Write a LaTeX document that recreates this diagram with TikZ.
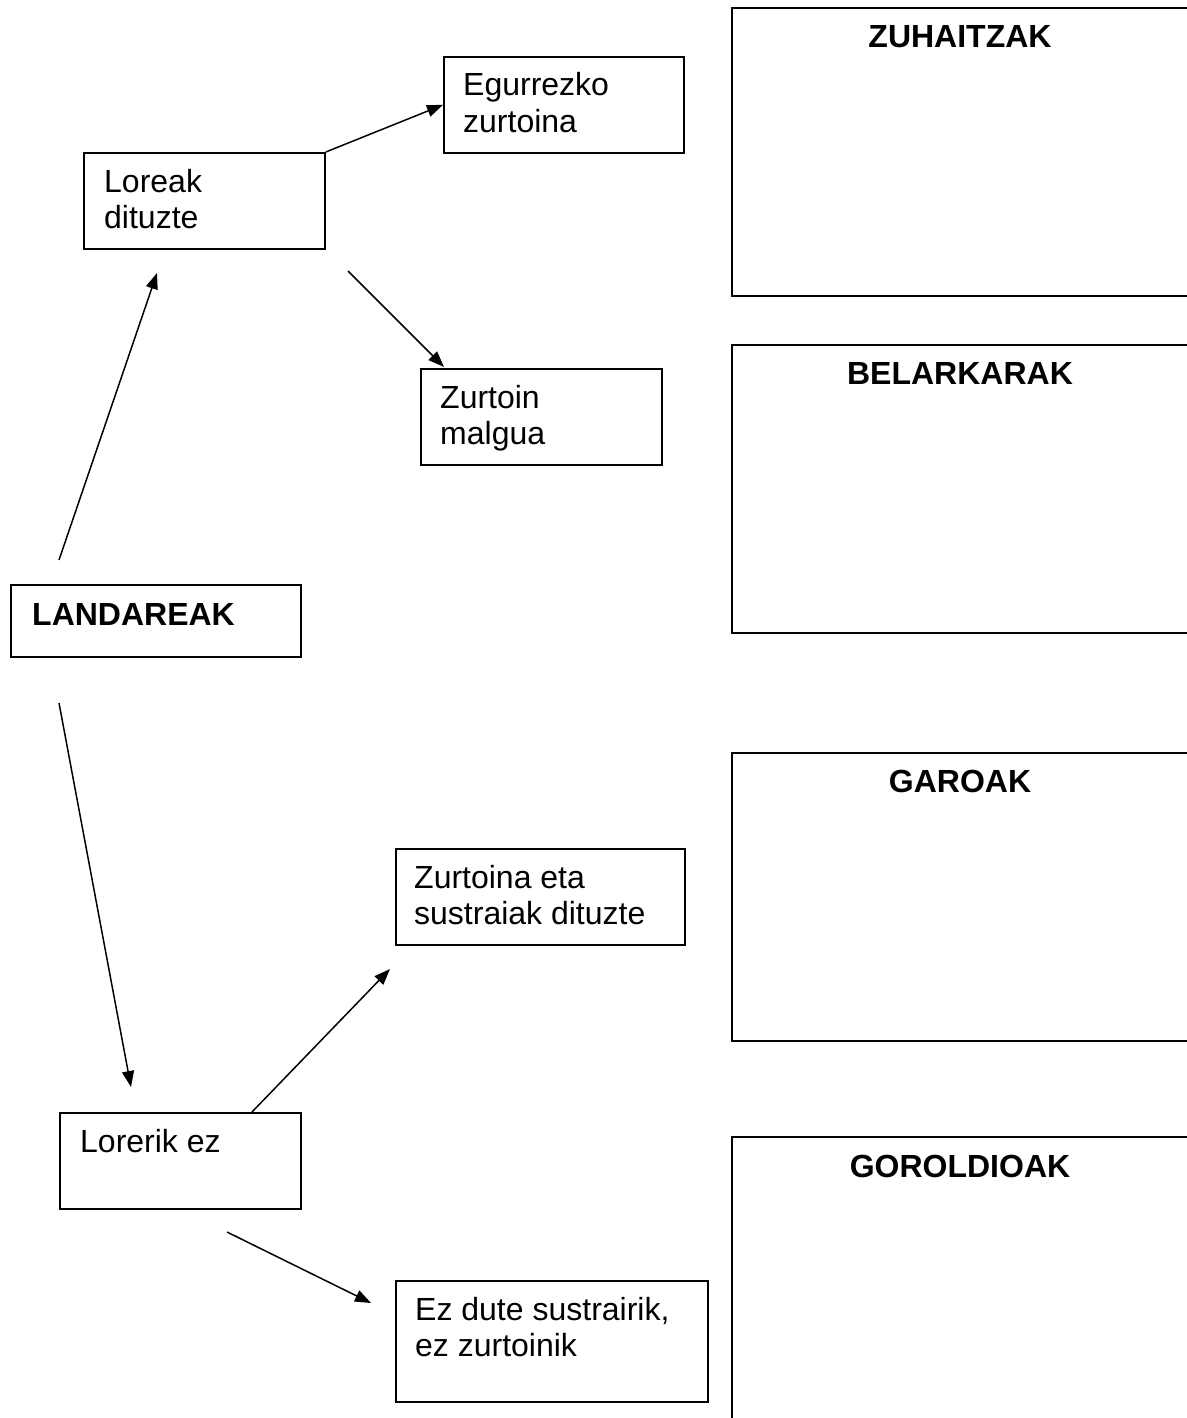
\documentclass[tikz,border=0pt]{standalone}
\usepackage{fontspec}
\setmainfont{Liberation Sans}
\usetikzlibrary{arrows.meta}
\begin{document}
\begin{tikzpicture}[x=1pt,y=-1pt,
  box/.style={draw, line width=1.8pt, inner sep=0pt, anchor=north west},
  bigbox/.style={draw, line width=2.2pt, inner sep=0pt, anchor=north west, minimum width=458pt, minimum height=288pt},
  txt/.style={anchor=base west, inner sep=0pt, font=\fontsize{32}{36}\selectfont},
  ttl/.style={anchor=base, inner sep=0pt, font=\fontsize{32}{36}\selectfont\bfseries},
  arr/.style={line width=1.5pt, -{Triangle[length=16pt,width=12pt]}}
]
\useasboundingbox (0,0) rectangle (1186,1418);

% left column boxes
\node[box, minimum width=240pt, minimum height=96pt] (egur) at (443,56) {};
\node[txt] (egurT1) at (463,96) {Egurrezko};
\node[txt] (egurT2) at (463,132) {zurtoina};

\node[box, minimum width=241pt, minimum height=96pt] (loreak) at (83,152) {};
\node[txt] (loreakT1) at (104,192) {Loreak};
\node[txt] (loreakT2) at (104,228) {dituzte};

\node[box, minimum width=241pt, minimum height=96pt] (malgua) at (420,368) {};
\node[txt] (malguaT1) at (440,408) {Zurtoin};
\node[txt] (malguaT2) at (440,444) {malgua};

\node[box, minimum width=290pt, minimum height=72pt] (landa) at (10,584) {};
\node[txt, font=\fontsize{32}{36}\selectfont\bfseries] (landaT) at (32,625) {LANDAREAK};

\node[box, minimum width=289pt, minimum height=96pt] (sustr) at (395,848) {};
\node[txt] (sustrT1) at (414,888) {Zurtoina eta};
\node[txt] (sustrT2) at (414,924) {sustraiak dituzte};

\node[box, minimum width=241pt, minimum height=96pt] (lorerik) at (59,1112) {};
\node[txt] (lorerikT) at (80,1152) {Lorerik ez};

\node[box, minimum width=312pt, minimum height=121pt] (ezdute) at (395,1280) {};
\node[txt] (ezduteT1) at (415,1320) {Ez dute sustrairik,};
\node[txt] (ezduteT2) at (415,1356) {ez zurtoinik};

% right column boxes
\node[bigbox] (zuh) at (731,7) {};
\node[ttl] (zuhT) at (960,48) {ZUHAITZAK};
\node[bigbox] (bel) at (731,344) {};
\node[ttl] (belT) at (960,384) {BELARKARAK};
\node[bigbox] (gar) at (731,752) {};
\node[ttl] (garT) at (960,792) {GAROAK};
\node[bigbox] (gor) at (731,1136) {};
\node[ttl] (gorT) at (960,1177) {GOROLDIOAK};

% free arrow ends
\coordinate (a2s) at (348,271);
\coordinate (a2e) at (444,367);
\coordinate (a3s) at (59,560);
\coordinate (a3e) at (157,273);
\coordinate (a4s) at (59,703);
\coordinate (a4e) at (131,1087);
\coordinate (a5s) at (252,1112);
\coordinate (a5e) at (390,969);
\coordinate (a6s) at (227,1232);
\coordinate (a6e) at (371,1303);

\draw[arr] (loreak.north east) -- (egur.west);
\draw[arr] (a2s) -- (a2e);
\draw[arr] (a3s) -- (a3e);
\draw[arr] (a4s) -- (a4e);
\draw[arr] (a5s) -- (a5e);
\draw[arr] (a6s) -- (a6e);
\end{tikzpicture}
\end{document}
